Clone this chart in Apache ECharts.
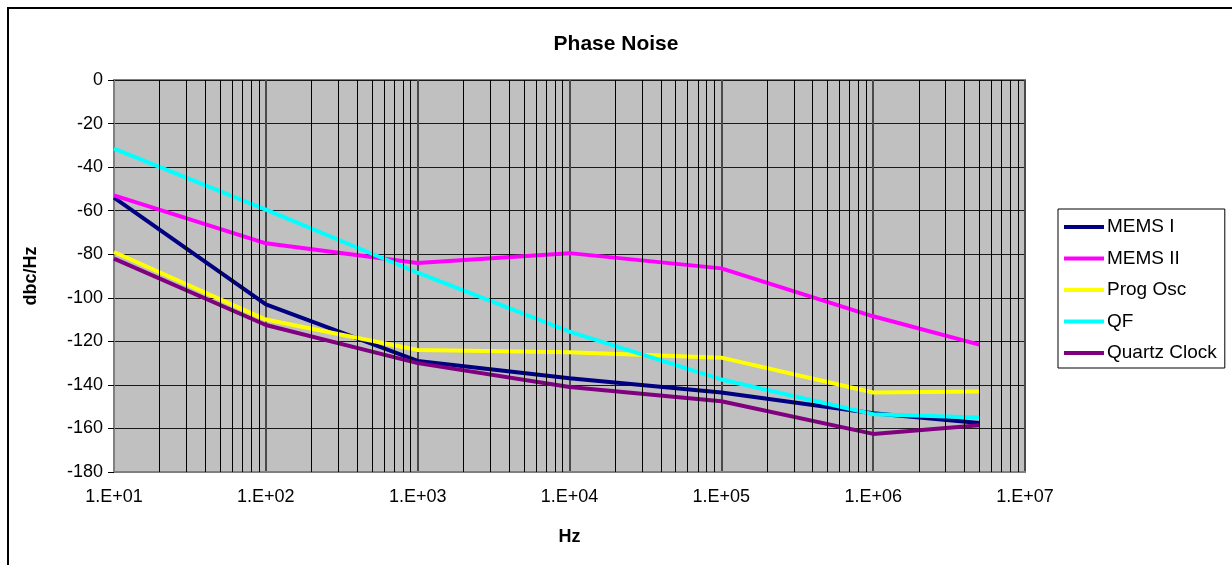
<!DOCTYPE html>
<html>
<head>
<meta charset="utf-8">
<script src="https://cdn.jsdelivr.net/npm/echarts@6/dist/echarts.min.js"></script>
<style>
  html, body { margin: 0; padding: 0; background: #ffffff; }
  #chart { width: 1232px; height: 565px; }
</style>
</head>
<body>
<div id="chart"></div>
<script>
// frequencies (Hz) shared by every series
const freqs = [10, 100, 1000, 10000, 100000, 1000000, 5000000]

const memsI = [-54, -103, -129, -137, -143.5, -153, -157.5]
const memsII = [-53, -75, -84, -79.5, -86.5, -108.5, -121.5]
const progOsc = [-79, -110, -124, -125, -127.5, -143.5, -143]
const qf = [-31.5, -59.5, -88.5, -115.5, -137.5, -153.5, -155]
const quartzClock = [-82, -112.5, -130, -141, -147.5, -162.5, -158.5]

const seriesNames = ['MEMS I', 'MEMS II', 'Prog Osc', 'QF', 'Quartz Clock']
const seriesValues = [memsI, memsII, progOsc, qf, quartzClock]
const seriesColors = ['#000080', '#FF00FF', '#FFFF00', '#00FFFF', '#800080']

const decades = [10, 100, 1000, 10000, 100000, 1000000]
const minorSteps = [2, 3, 4, 5, 6, 7, 8, 9]

const font = '"Liberation Sans", Arial, sans-serif'

// minor log gridlines 2..9 inside every decade
const minorLines = []
decades.forEach((d) => {
  minorSteps.forEach((m) => {
    minorLines.push({ xAxis: d * m })
  })
})

const chart = echarts.init(document.getElementById('chart'))

const series = seriesNames.map((name, i) => {
  return {
    name: name,
    type: 'line',
    z: 3,
    symbol: 'none',
    smooth: false,
    animation: false,
    data: freqs.map((f, j) => [f, seriesValues[i][j]]),
    lineStyle: {
      color: seriesColors[i],
      width: 4,
    },
    itemStyle: {
      color: seriesColors[i],
    },
  }
})

series.unshift({
  name: 'minor',
  type: 'line',
  z: 1,
  data: [],
  silent: true,
  animation: false,
  markLine: {
    silent: true,
    symbol: ['none', 'none'],
    label: { show: false },
    animation: false,
    lineStyle: {
      color: '#000000',
      width: 1,
      type: 'solid',
    },
    data: minorLines,
  },
})

chart.setOption({
  animation: false,
  textStyle: {
    fontFamily: font,
  },
  title: {
    text: 'Phase Noise',
    left: 'center',
    top: 29,
    textStyle: {
      fontFamily: font,
      fontSize: 21,
      fontWeight: 'bold',
      color: '#000000',
    },
  },
  graphic: [
    {
      type: 'rect',
      silent: true,
      shape: { x: 8, y: 8, width: 1240, height: 580 },
      style: { fill: 'none', stroke: '#000000', lineWidth: 2 },
    },
  ],
  legend: {
    data: seriesNames,
    orient: 'vertical',
    left: 1058,
    top: 209,
    padding: [8, 8, 5, 6],
    itemGap: 11.5,
    itemWidth: 40,
    itemHeight: 4,
    icon: 'rect',
    backgroundColor: '#ffffff',
    borderColor: '#000000',
    borderWidth: 1,
    borderRadius: 0,
    textStyle: {
      fontFamily: font,
      fontSize: 19,
      lineHeight: 20,
      color: '#000000',
      padding: [0, 0, 0, -2],
    },
  },
  grid: {
    left: 114,
    right: 207,
    top: 80,
    bottom: 93,
    show: true,
    backgroundColor: '#C0C0C0',
    borderColor: '#808080',
    borderWidth: 2,
  },
  xAxis: {
    type: 'log',
    logBase: 10,
    min: 10,
    max: 10000000,
    splitNumber: 6,
    name: 'Hz',
    nameLocation: 'middle',
    nameGap: 56,
    nameTextStyle: {
      fontFamily: font,
      fontSize: 18,
      fontWeight: 'bold',
      color: '#000000',
    },
    axisLine: {
      show: true,
      onZero: false,
      lineStyle: { color: '#808080', width: 2 },
    },
    axisTick: { show: false },
    axisLabel: {
      margin: 16,
      fontFamily: font,
      fontSize: 18,
      color: '#000000',
      formatter: function (value) {
        const p = Math.round(Math.log10(value))
        return '1.E+' + (p < 10 ? '0' + p : p)
      },
    },
    splitLine: {
      show: true,
      lineStyle: { color: '#4a4a4a', width: 2 },
    },
  },
  yAxis: {
    type: 'value',
    min: -180,
    max: 0,
    interval: 20,
    name: 'dbc/Hz',
    nameLocation: 'middle',
    nameGap: 74,
    nameRotate: 90,
    nameTextStyle: {
      fontFamily: font,
      fontSize: 18,
      fontWeight: 'bold',
      color: '#000000',
    },
    axisLine: {
      show: true,
      lineStyle: { color: '#808080', width: 2 },
    },
    axisTick: {
      show: true,
      inside: false,
      length: 6,
      lineStyle: { color: '#000000', width: 1 },
    },
    axisLabel: {
      margin: 11,
      fontFamily: font,
      fontSize: 18,
      color: '#000000',
    },
    splitLine: {
      show: true,
      lineStyle: { color: '#1a1a1a', width: 1 },
    },
  },
  series: series,
})
</script>
</body>
</html>
